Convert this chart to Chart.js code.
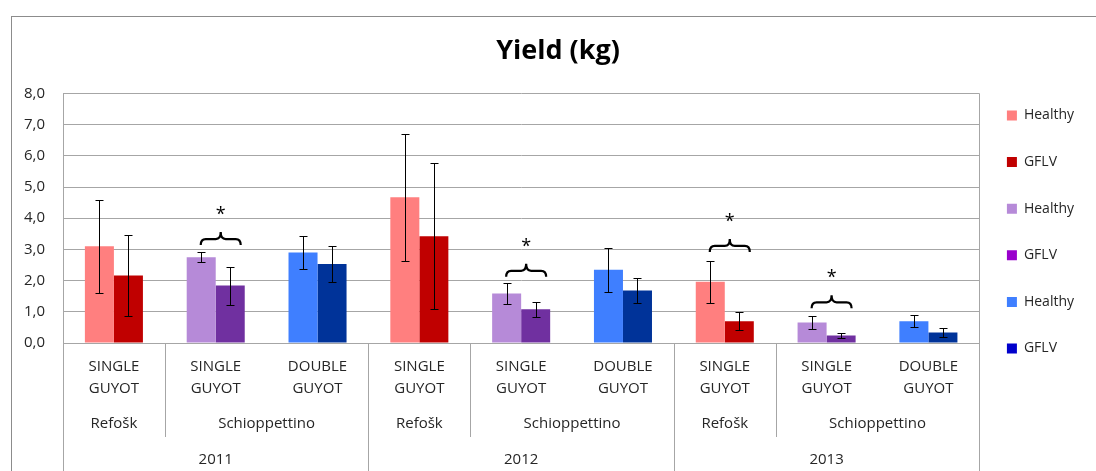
<!DOCTYPE html>
<html>
<head>
<meta charset="utf-8">
<script src="https://cdn.jsdelivr.net/npm/chart.js@4.4.0/dist/chart.umd.min.js"></script>
<style>
  html, body { margin: 0; padding: 0; background: #fff; overflow: hidden; }
  #frame { position: absolute; left: 11px; top: 16px; width: 1100px; height: 470px; border: 1px solid #8c8c8c; }
  canvas { display: block; }
</style>
</head>
<body>
<div id="frame"><canvas id="yieldChart" width="1092" height="454"></canvas></div>
<script>
// x axis, three label rows
const trainings = [
  ['SINGLE', 'GUYOT'], ['SINGLE', 'GUYOT'], ['DOUBLE', 'GUYOT'],
  ['SINGLE', 'GUYOT'], ['SINGLE', 'GUYOT'], ['DOUBLE', 'GUYOT'],
  ['SINGLE', 'GUYOT'], ['SINGLE', 'GUYOT'], ['DOUBLE', 'GUYOT']
];
const varieties = ['Refošk', 'Schioppettino', 'Refošk', 'Schioppettino', 'Refošk', 'Schioppettino'];
const varietySpans = [1, 2, 1, 2, 1, 2];
const years = ['2011', '2012', '2013'];
const yearSpans = [3, 3, 3];

// series (kg) and their error bars
const seriesLabels = ['Healthy', 'GFLV', 'Healthy', 'GFLV', 'Healthy', 'GFLV'];
const refoskHealthy    = [3.10, null, null, 4.67, null, null, 1.96, null, null];
const refoskHealthyErr = [1.49, null, null, 2.04, null, null, 0.67, null, null];
const refoskGflv       = [2.16, null, null, 3.42, null, null, 0.70, null, null];
const refoskGflvErr    = [1.29, null, null, 2.34, null, null, 0.29, null, null];
const singleHealthy    = [null, 2.75, null, null, 1.59, null, null, 0.66, null];
const singleHealthyErr = [null, 0.16, null, null, 0.33, null, null, 0.21, null];
const singleGflv       = [null, 1.84, null, null, 1.08, null, null, 0.24, null];
const singleGflvErr    = [null, 0.61, null, null, 0.24, null, null, 0.07, null];
const doubleHealthy    = [null, null, 2.90, null, null, 2.35, null, null, 0.70];
const doubleHealthyErr = [null, null, 0.53, null, null, 0.70, null, null, 0.19];
const doubleGflv       = [null, null, 2.53, null, null, 1.68, null, null, 0.34];
const doubleGflvErr    = [null, null, 0.58, null, null, 0.41, null, null, 0.14];

// significance brackets: category index and bracket level (kg)
const sigCategories = [1, 4, 6, 7];
const sigLevels = [3.14, 2.12, 2.92, 1.11];

const barColors = ['#FF7F7F', '#C00000', '#B68AD8', '#7030A0', '#3F7FFF', '#003399'];
const legendColors = ['#FF7F7F', '#C00000', '#B68AD8', '#9900CC', '#3F7FFF', '#0000CC'];
const GRID = '#a6a6a6';
const TEXT = '#262626';
const FONT = 'Open Sans';

Chart.defaults.font.family = FONT;

const values = [refoskHealthy, refoskGflv, singleHealthy, singleGflv, doubleHealthy, doubleGflv];
const errors = [refoskHealthyErr, refoskGflvErr, singleHealthyErr, singleGflvErr, doubleHealthyErr, doubleGflvErr];

const extras = {
  id: 'extras',
  afterLayout(chart) {
    // legend a little closer to the plot, title centred on the whole frame
    chart.legend.left -= 5;
    chart.legend.right -= 5;
    chart.titleBlock.left += 7.5;
    chart.titleBlock.right += 7.5;
  },
  afterDatasetsDraw(chart) {
    const ctx = chart.ctx;
    const x = chart.scales.x, y = chart.scales.y;
    ctx.save();
    ctx.strokeStyle = '#000';
    ctx.lineWidth = 1;
    chart.data.datasets.forEach((ds, di) => {
      const meta = chart.getDatasetMeta(di);
      meta.data.forEach((bar, i) => {
        const v = ds.data[i], e = ds.errors[i];
        if (v == null || e == null) return;
        const top = Math.round(y.getPixelForValue(v + e)) + 0.5;
        const bot = Math.round(y.getPixelForValue(v - e)) + 0.5;
        const cx = Math.round(bar.x) + 0.5;
        ctx.beginPath();
        ctx.moveTo(cx, top); ctx.lineTo(cx, bot);
        ctx.moveTo(cx - 4, top); ctx.lineTo(cx + 4, top);
        ctx.moveTo(cx - 4, bot); ctx.lineTo(cx + 4, bot);
        ctx.stroke();
      });
    });

    // brackets with stars
    ctx.lineWidth = 2.2;
    ctx.fillStyle = '#000';
    ctx.font = '18px ' + FONT;
    ctx.textAlign = 'center';
    ctx.textBaseline = 'middle';
    sigCategories.forEach((c, k) => {
      const cx = x.getPixelForValue(c) + 5;
      const yb = y.getPixelForValue(sigLevels[k]);
      const w = 20;
      ctx.beginPath();
      ctx.moveTo(cx - w, yb);
      ctx.quadraticCurveTo(cx - w, yb - 6, cx - w + 5, yb - 6);
      ctx.lineTo(cx - 5, yb - 6);
      ctx.quadraticCurveTo(cx, yb - 6, cx, yb - 13);
      ctx.quadraticCurveTo(cx, yb - 6, cx + 5, yb - 6);
      ctx.lineTo(cx + w - 5, yb - 6);
      ctx.quadraticCurveTo(cx + w, yb - 6, cx + w, yb);
      ctx.stroke();
      ctx.fillText('*', cx, yb - 30);
    });
    ctx.restore();
  },
  afterDraw(chart) {
    const ctx = chart.ctx;
    const x = chart.scales.x;
    const area = chart.chartArea;
    const half = (x.getPixelForValue(1) - x.getPixelForValue(0)) / 2;
    const edge = (i) => Math.round(x.getPixelForValue(i) - half) + 0.5;
    const H = chart.height;
    ctx.save();
    ctx.strokeStyle = GRID;
    ctx.lineWidth = 1;
    ctx.fillStyle = TEXT;
    ctx.font = '15px ' + FONT;
    ctx.textAlign = 'center';
    ctx.textBaseline = 'middle';

    // variety row
    let start = 0;
    varieties.forEach((name, k) => {
      const end = start + varietySpans[k];
      const cx = (x.getPixelForValue(start) + x.getPixelForValue(end - 1)) / 2;
      ctx.fillText(name, cx, area.bottom + 81);
      ctx.beginPath();
      ctx.moveTo(edge(start), area.bottom);
      ctx.lineTo(edge(start), area.bottom + 94);
      ctx.stroke();
      start = end;
    });

    // year row
    start = 0;
    years.forEach((name, k) => {
      const end = start + yearSpans[k];
      const cx = (x.getPixelForValue(start) + x.getPixelForValue(end - 1)) / 2;
      ctx.fillText(name, cx, area.bottom + 117);
      ctx.beginPath();
      ctx.moveTo(edge(start), area.bottom);
      ctx.lineTo(edge(start), H);
      ctx.stroke();
      start = end;
    });
    const right = Math.round(area.right) + 0.5;
    ctx.beginPath();
    ctx.moveTo(right, area.top);
    ctx.lineTo(right, H);
    ctx.stroke();
    ctx.restore();
  }
};

new Chart(document.getElementById('yieldChart').getContext('2d'), {
  type: 'bar',
  data: {
    labels: trainings,
    datasets: values.map((vals, i) => ({
      label: seriesLabels[i],
      data: vals,
      errors: errors[i],
      backgroundColor: barColors[i],
      borderWidth: 0,
      skipNull: true,
      categoryPercentage: 0.57,
      barPercentage: 1.0
    }))
  },
  options: {
    responsive: false,
    animation: false,
    layout: { padding: { top: 0, left: 0, right: 15, bottom: 24 } },
    plugins: {
      title: {
        display: true,
        text: 'Yield (kg)',
        color: '#000',
        font: { family: FONT, size: 27, weight: 'bold' },
        padding: { top: 18, bottom: 26 }
      },
      legend: {
        position: 'right',
        labels: {
          boxWidth: 10,
          boxHeight: 10,
          padding: 32.6,
          color: TEXT,
          font: { family: FONT, size: 14 },
          generateLabels: (chart) => chart.data.datasets.map((ds, i) => ({
            text: ds.label,
            fillStyle: legendColors[i],
            strokeStyle: legendColors[i],
            lineWidth: 0,
            hidden: false,
            datasetIndex: i,
            fontColor: TEXT
          }))
        }
      },
      tooltip: { enabled: false }
    },
    scales: {
      x: {
        grid: { display: false },
        border: { color: GRID },
        ticks: {
          color: TEXT,
          font: { size: 15, lineHeight: 1.47 },
          padding: 5,
          maxRotation: 0,
          autoSkip: false
        },
        afterFit: (s) => { s.height = 104; }
      },
      y: {
        min: 0,
        max: 8,
        ticks: {
          stepSize: 1,
          color: TEXT,
          font: { size: 15 },
          padding: 18,
          callback: (v) => v.toFixed(1).replace('.', ',')
        },
        grid: { color: GRID, drawTicks: false },
        border: { color: GRID },
        afterFit: (s) => { s.width = 51; }
      }
    }
  },
  plugins: [extras]
});
</script>
</body>
</html>
